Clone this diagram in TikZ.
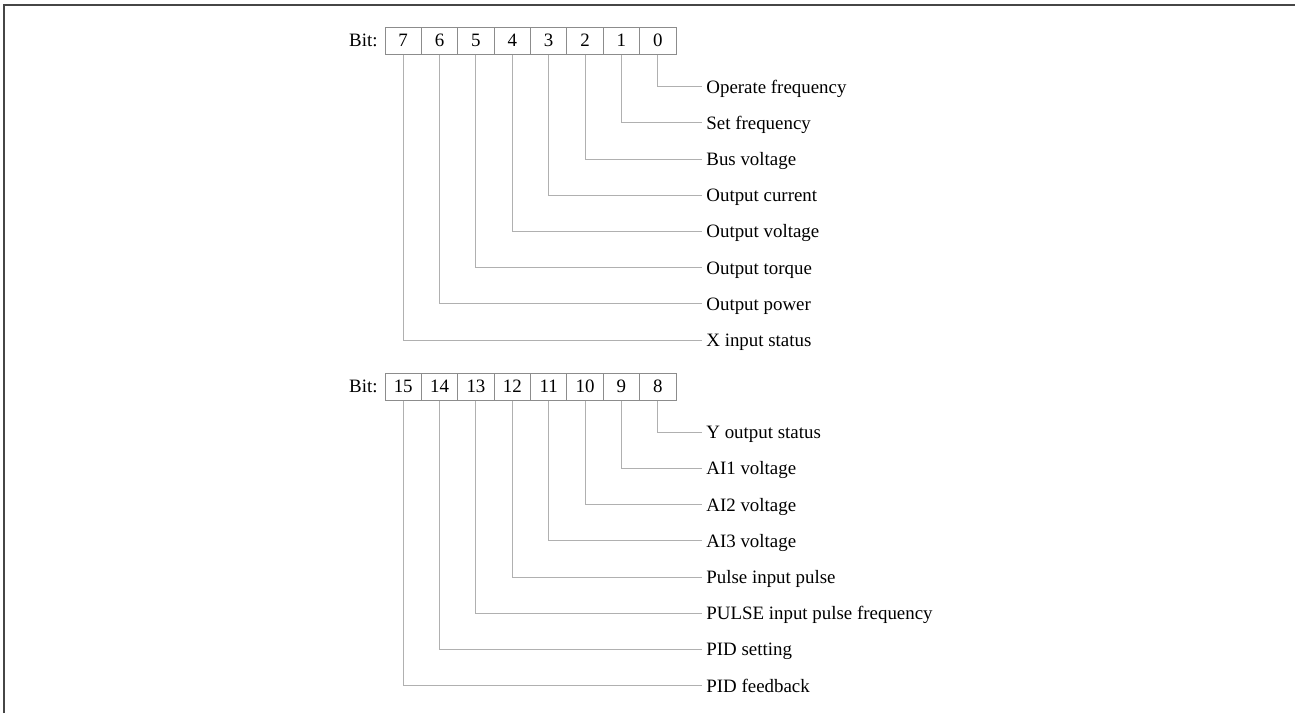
\documentclass[tikz,border=0pt]{standalone}
\usepackage{fontspec}
\setmainfont{Liberation Serif}
\definecolor{framegray}{RGB}{70,70,70}
\definecolor{boxgray}{RGB}{140,140,140}
\definecolor{linegray}{RGB}{176,176,176}
\begin{document}
\begin{tikzpicture}[x=0.5pt,y=-0.5pt,
  txt/.style={font=\fontsize{9.45}{11}\selectfont},
  cell/.style={txt,draw=boxgray,line width=0.5pt,minimum width=18.19pt,minimum height=13.35pt,inner sep=0pt},
  lbl/.style={txt,anchor=west,inner xsep=2pt,inner ysep=0pt,text height=7pt,text depth=0.7pt},
  bitlbl/.style={txt,anchor=east,inner sep=0pt},
  lead/.style={draw=linegray,line width=0.5pt}]
\useasboundingbox (0,0) rectangle (1295,713);
\draw[framegray,line width=1pt] (3.5,713) -- (3.5,4.5) -- (1295,4.5);
% top register
\node[bitlbl] (bitA) at (378,40.7) {Bit:};
\foreach \b in {0,...,7}{
  \node[cell] (c\b) at ({403.2+36.375*(7-\b)},40.7) {\b};
}
\foreach \b/\t in {0/Operate frequency,1/Set frequency,2/Bus voltage,3/Output current,4/Output voltage,5/Output torque,6/Output power,7/X input status}{
  \node[lbl] (l\b) at (702,{86.7+36.2*\b}) {\t};
  \draw[lead] (c\b.south) |- (l\b.west);
}
% bottom register
\node[bitlbl] (bitB) at (378,386.7) {Bit:};
\foreach \b in {8,...,15}{
  \node[cell] (c\b) at ({403.2+36.375*(15-\b)},386.7) {\b};
}
\foreach \b/\t in {8/Y output status,9/AI1 voltage,10/AI2 voltage,11/AI3 voltage,12/Pulse input pulse,13/PULSE input pulse frequency,14/PID setting,15/PID feedback}{
  \node[lbl] (l\b) at (702,{432.3+36.2*(\b-8)}) {\t};
  \draw[lead] (c\b.south) |- (l\b.west);
}
\end{tikzpicture}
\end{document}
